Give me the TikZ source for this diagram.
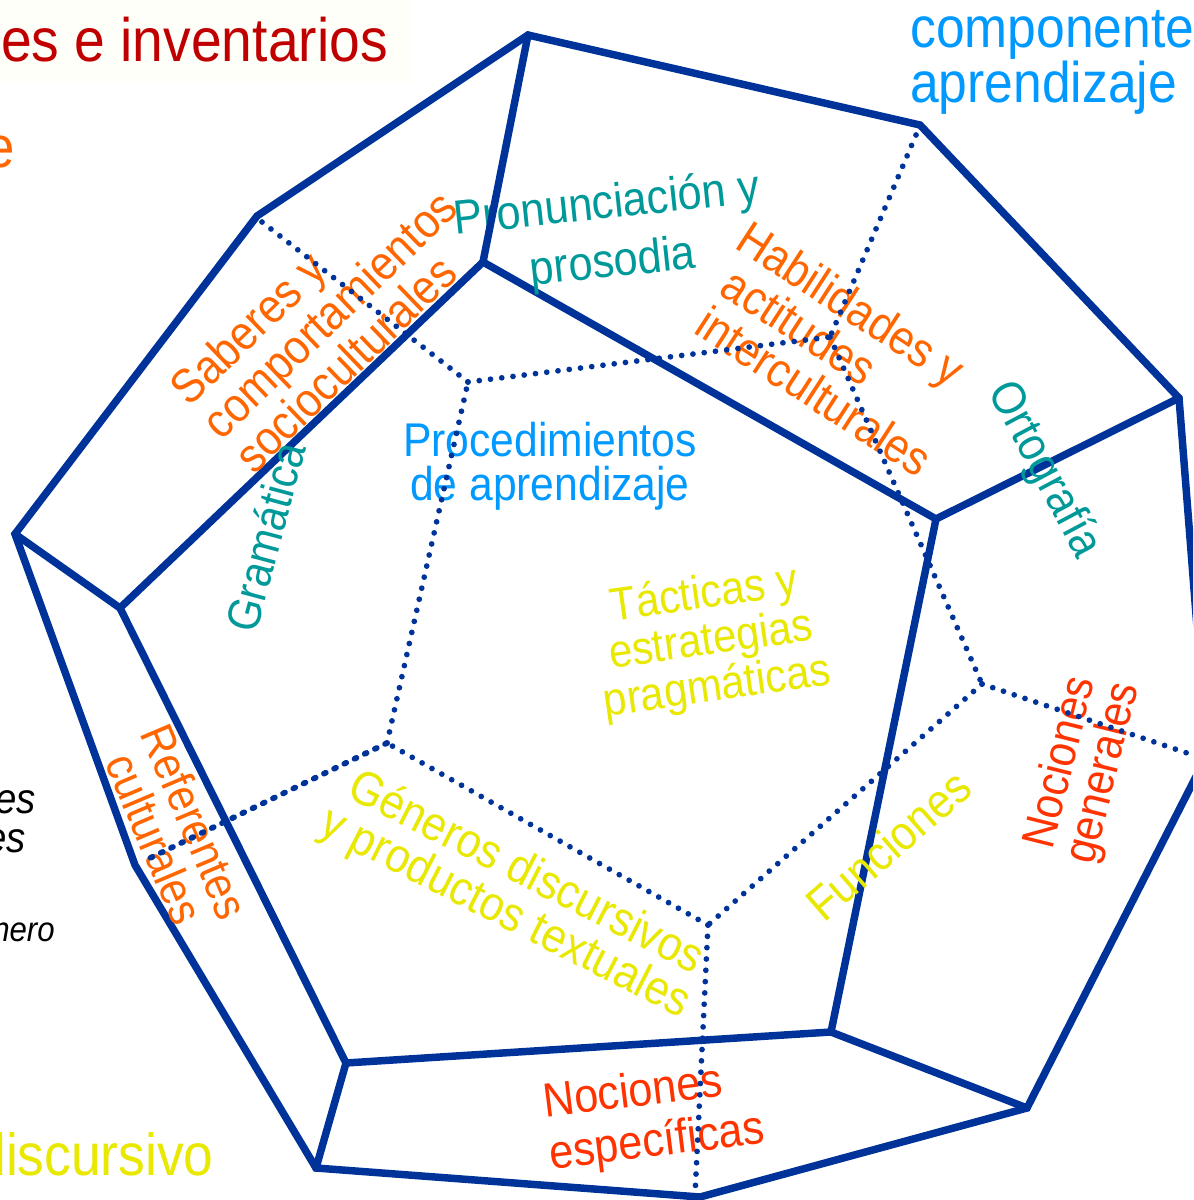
\documentclass[tikz,border=0pt]{standalone}
\usepackage{fontspec}
\setmainfont{Liberation Sans}
\newfontfamily\nar[FakeStretch=0.9]{Liberation Sans}
\newcommand{\fsz}[2]{\nar\fontsize{#1}{#2}\selectfont}
\definecolor{dblue}{RGB}{0,51,153}
\definecolor{sky}{RGB}{0,153,255}
\definecolor{teal2}{RGB}{0,153,153}
\definecolor{orng}{RGB}{255,102,0}
\definecolor{redo}{RGB}{255,51,0}
\definecolor{yel}{RGB}{232,232,0}
\definecolor{dred}{RGB}{192,0,0}
\tikzset{
 solidedge/.style={draw=dblue,line width=5.6pt,line join=miter,line cap=round},
 dotedge/.style={draw=dblue,line width=4.3pt,line cap=round,dash pattern=on 0pt off 8.5pt},
 dashdot/.style={draw=dblue,line width=4.3pt,line cap=round,dash pattern=on 1.6pt off 6.9pt},
 lab/.style={inner sep=0pt,align=center},
 labl/.style={inner sep=0pt,align=left},
 marg/.style={inner sep=0pt},
}
\begin{document}
\begin{tikzpicture}[x=0.75pt,y=-0.75pt]
\useasboundingbox (0,0) rectangle (1193,1200);
\clip (0,0) rectangle (1193,1200);
\fill[white] (0,0) rectangle (1193,1200);
\fill[yellow!2!white] (0,0) rectangle (412,82);
% vertices
\coordinate (A) at (528,35);
\coordinate (B) at (920,125);
\coordinate (C) at (1179,398);
\coordinate (D) at (1207,755);
\coordinate (E) at (1027,1108);
\coordinate (F) at (700,1197);
\coordinate (G) at (316,1168);
\coordinate (H) at (135,865);
\coordinate (I) at (15,534);
\coordinate (J) at (257,216);
\coordinate (K) at (483,262);
\coordinate (L) at (936,519);
\coordinate (M) at (831,1032);
\coordinate (N) at (346,1063);
\coordinate (O) at (120,608);
\coordinate (P) at (468,382);
\coordinate (Q) at (830,337);
\coordinate (R) at (982,684);
\coordinate (S) at (708,925);
\coordinate (T) at (387,743);
\coordinate (Jd) at (262,222);
\coordinate (Bd) at (916,135);
\coordinate (Hd) at (146,860);
\coordinate (Fd) at (695,1195);
\coordinate (Dd) at (1190,754);
% solid edges
\draw[solidedge] (A) -- (B) -- (C) -- (D) -- (E) -- (F) -- (G) -- (H) -- (I) -- (J) -- cycle;
\draw[solidedge] (K) -- (L) -- (M) -- (N) -- (O) -- cycle;
\draw[solidedge] (C) -- (L);
\draw[solidedge] (E) -- (M);
\draw[solidedge] (G) -- (N);
\draw[solidedge] (I) -- (O);
% margin texts
\node[marg,anchor=base east,text=dred,font=\fsz{46}{46}] (t1) at (388,61) {es e inventarios};
\node[marg,anchor=base east,text=orng,font=\fsz{44}{44}] (t2) at (15,167) {e};
\node[marg,anchor=base west,text=sky,font=\fsz{43}{43}] (t3) at (910,47) {componente};
\node[marg,anchor=base west,text=sky,font=\fsz{43}{43}] (t4) at (910,102) {aprendizaje};
\node[marg,anchor=base east,text=yel,font=\fsz{44.5}{44.5}] (t5) at (214,1175) {discursivo};
\node[marg,anchor=base east,font=\fsz{32}{32}\itshape] (t6) at (36,813) {es};
\node[marg,anchor=base east,font=\fsz{32}{32}\itshape] (t7) at (26,852) {es};
\node[marg,anchor=base east,font=\fsz{26}{26}\itshape] (t8) at (55,941) {nero};
% face labels
\node[lab,text=teal2,rotate=6,font=\fsz{36}{44}] (l1) at (610,235) {Pronunciación y\\prosodia};
\node[labl,text=orng,rotate=44,font=\fsz{36}{35}] (l2) at (329,314) {Saberes y\\comportamientos\\socioculturales};
\node[labl,text=orng,rotate=-33,font=\fsz{36}{35}] (l3) at (840,352) {\hspace*{-9pt}Habilidades y\\actitudes\\interculturales};
\node[lab,text=teal2,rotate=-62,font=\fsz{35.5}{36}] (l4) at (1044,470) {Ortografía};
\node[lab,text=teal2,rotate=75,font=\fsz{35}{35}] (l5) at (265,537) {Gramática};
\node[lab,text=sky,font=\fsz{35.5}{33}] (l6) at (550,466) {Procedimientos\\de aprendizaje};
\node[lab,text=yel,rotate=8,font=\fsz{35}{35}] (l7) at (711,642) {Tácticas y\\estrategias\\pragmáticas};
\node[lab,text=yel,rotate=-27,font=\fsz{36}{34}] (l8) at (515,894) {Géneros discursivos\\y productos textuales};
\node[lab,text=orng,rotate=-67,font=\fsz{35}{33}] (l9) at (175,830) {Referentes\\culturales};
\node[lab,text=yel,rotate=41,font=\fsz{36}{36}] (l10) at (888,845) {Funciones};
\node[lab,text=redo,rotate=76,font=\fsz{35}{33}] (l11) at (1083,768) {Nociones\\generales};
\node[labl,text=redo,rotate=7,font=\fsz{36}{39}] (l12) at (654,1118) {Nociones\\específicas};
% dotted back edges, over the labels
\draw[dotedge] (Jd) -- (P);
\draw[dotedge] (P) -- (Q);
\draw[dotedge] (Bd) -- (Q);
\draw[dotedge] (Q) -- (R);
\draw[dotedge] (R) -- (Dd);
\draw[dotedge] (R) -- (S);
\draw[dotedge] (S) -- (T);
\draw[dotedge] (T) -- (P);
\draw[dashdot] (T) -- (Hd);
\draw[dotedge] (S) -- (Fd);
% spoke over the label it crosses
\draw[solidedge] (A) -- (K);
\end{tikzpicture}
\end{document}
